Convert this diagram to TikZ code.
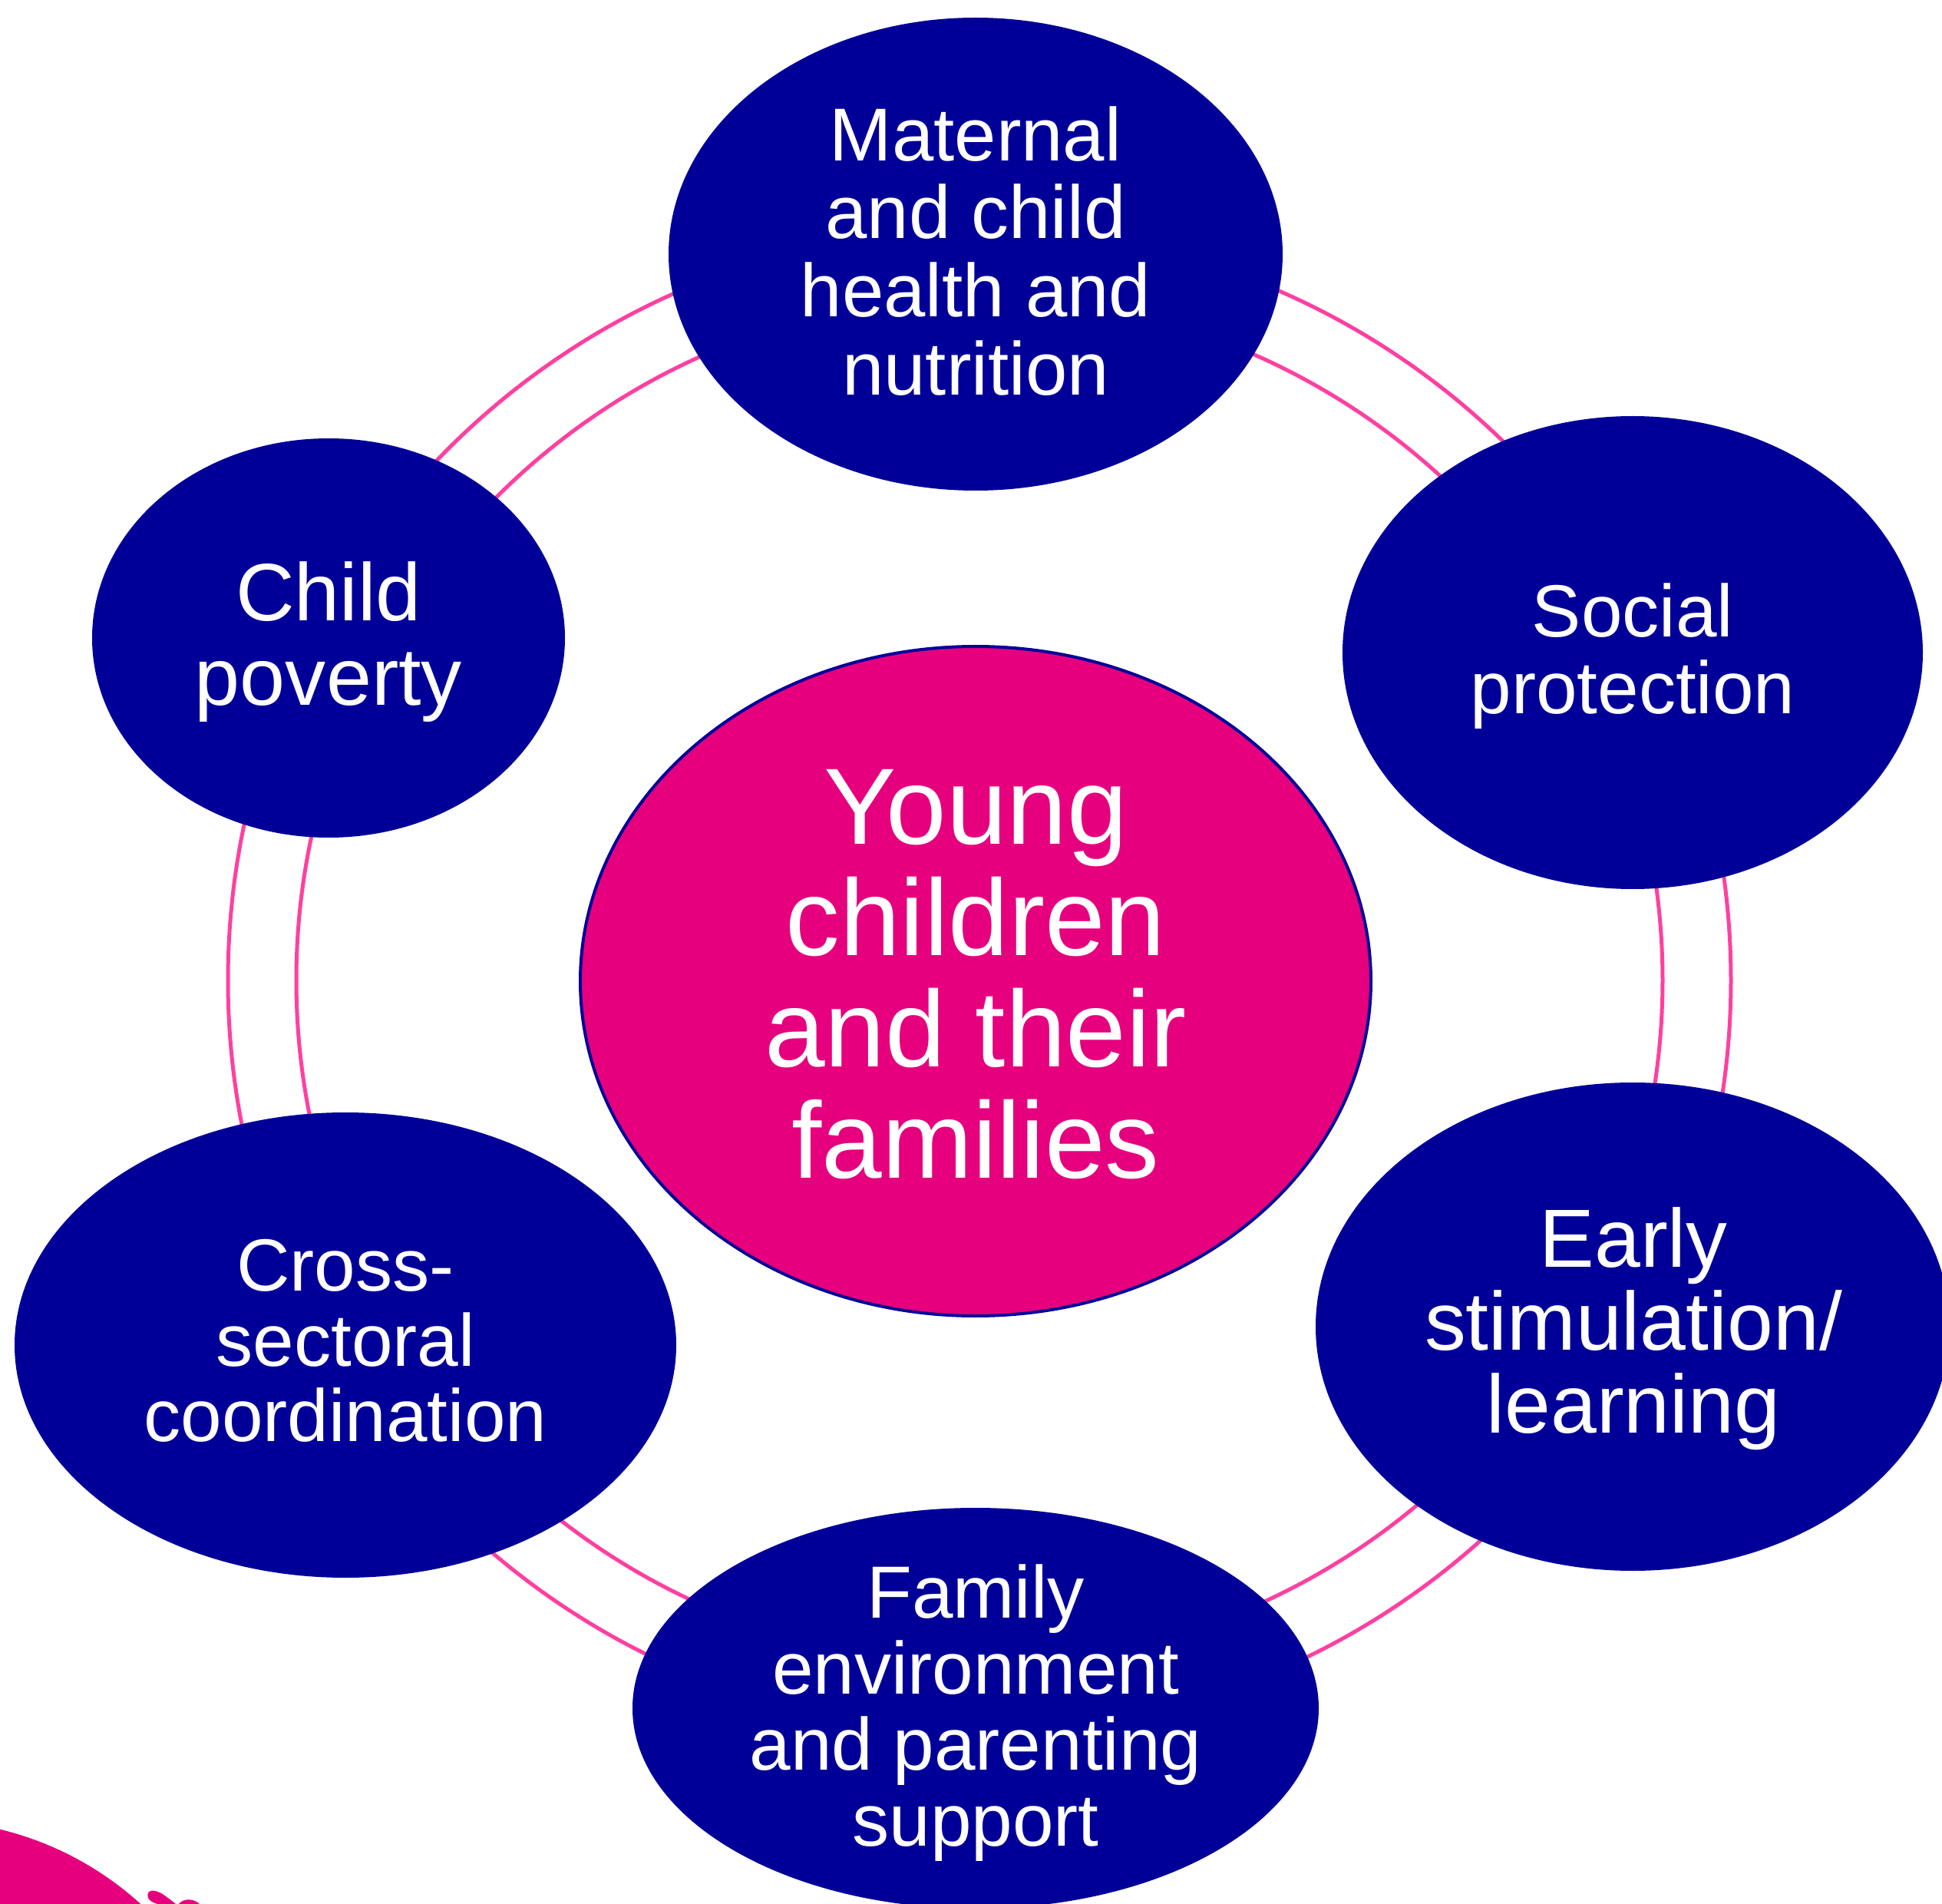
\documentclass[tikz,border=0pt]{standalone}
\usepackage{fontspec}
\setmainfont{Liberation Sans}
\usetikzlibrary{shapes.geometric}
\definecolor{navy}{RGB}{0,0,153}
\definecolor{magent}{RGB}{230,0,126}
\definecolor{ringpink}{RGB}{255,64,160}
\tikzset{
  blob/.style={ellipse, fill=navy, inner sep=0pt, outer sep=0pt},
  txt/.style={text=white, align=center, inner sep=0pt},
  ring/.style={draw=ringpink, line width=0.05cm}
}
\begin{document}
\begin{tikzpicture}
\useasboundingbox (0,0) rectangle (25.3,-24.8);
\clip (0,0) rectangle (25.3,-24.8);
% rings
\coordinate (rc) at (12.76,-12.77);
\draw[ring] (rc) circle (9.79);
\draw[ring] (rc) circle (8.90);
% outer ellipses
\node[blob, minimum width=8.00cm, minimum height=6.16cm] (mat) at (12.71,-3.31) {};
\node[blob, minimum width=6.16cm, minimum height=5.20cm] (pov) at (4.28,-8.31) {};
\node[blob, minimum width=7.56cm, minimum height=6.16cm] (soc) at (21.27,-8.50) {};
\node[blob, minimum width=8.62cm, minimum height=6.06cm] (crs) at (4.50,-17.52) {};
\node[blob, minimum width=8.26cm, minimum height=6.36cm] (ear) at (21.27,-17.28) {};
\node[blob, minimum width=8.94cm, minimum height=5.22cm] (fam) at (12.71,-22.25) {};
% centre
\node[ellipse, fill=magent, draw=navy, line width=0.04cm, inner sep=0pt,
      minimum width=10.30cm, minimum height=8.72cm] (ctr) at (12.71,-12.78) {};
% texts
\node[txt, font=\fontsize{27.8}{29.0}\selectfont] (matT) at (12.71,-3.27) {Maternal\\and child\\health and\\nutrition};
\node[txt, font=\fontsize{30.2}{31.3}\selectfont] (povT) at (4.28,-8.36) {Child\\poverty};
\node[txt, font=\fontsize{27.4}{28.5}\selectfont] (socT) at (21.27,-8.55) {Social\\protection};
\node[txt, font=\fontsize{27.4}{27.9}\selectfont] (crsT) at (4.50,-17.46) {Cross-\\sectoral\\coordination};
\node[txt, font=\fontsize{30.6}{30.7}\selectfont] (earT) at (21.28,-17.31) {Early\\stimulation/\\learning};
\node[txt, font=\fontsize{27.4}{28.2}\selectfont] (famT) at (12.71,-22.31) {Family\\environment\\and parenting\\support};
\node[txt, font=\fontsize{40.2}{41.3}\selectfont] (ctrT) at (12.71,-12.69) {Young\\children\\and their\\families};
% partial logo in the lower-left corner
\fill[magent] (-0.99,-27.91) circle (4.20);
\fill[magent] (1.93,-24.72) .. controls (1.90,-24.62) and (1.99,-24.60) .. (2.10,-24.66)
  .. controls (2.18,-24.71) and (2.24,-24.76) .. (2.29,-24.80) -- (2.05,-24.80)
  .. controls (1.99,-24.78) and (1.95,-24.76) .. cycle;
\fill[magent] (2.33,-24.80) .. controls (2.37,-24.74) and (2.50,-24.71) .. (2.60,-24.80) -- cycle;
\end{tikzpicture}
\end{document}
